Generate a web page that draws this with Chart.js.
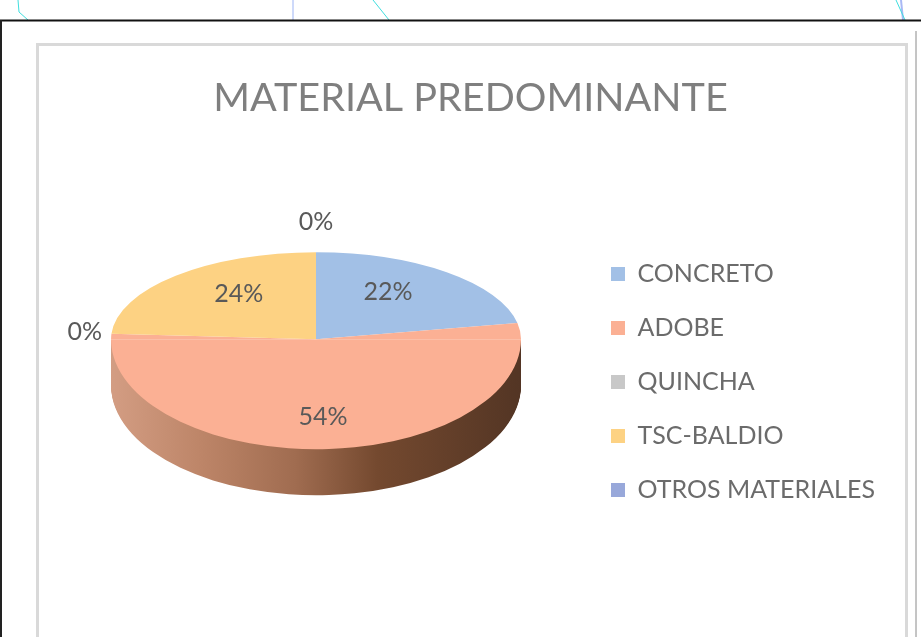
<!DOCTYPE html>
<html>
<head>
<meta charset="utf-8">
<title>Material predominante</title>
<script src="https://cdn.jsdelivr.net/npm/chart.js@4"></script>
<style>
  html, body { margin: 0; padding: 0; background: #fff; overflow: hidden; }
  #page { position: relative; width: 921px; height: 637px; overflow: hidden; }
  #scraps { position: absolute; left: 0; top: 0; }
  #frame { position: absolute; left: 36px; top: 43px; width: 866px; height: 591px; border: 3px solid #d9d9d9; }
  #chartbox { position: absolute; left: 39px; top: 46px; width: 863px; height: 591px; }
</style>
</head>
<body>
<div id="page">
  <svg id="scraps" width="921" height="637" fill="none">
    <polyline points="18,0 19,12 28,20" stroke="#3fdede"/>
    <line x1="293" y1="0" x2="293" y2="20" stroke="#9db4f5"/>
    <line x1="373" y1="0" x2="389" y2="20" stroke="#3fdede"/>
    <line x1="901" y1="0" x2="903" y2="20" stroke="#a9b9f5" stroke-width="2"/>
    <line x1="896" y1="0" x2="905" y2="20" stroke="#3fdede"/>
    <line x1="0" y1="20.5" x2="921" y2="20.5" stroke="#111" stroke-width="2"/>
    <line x1="1" y1="20" x2="1" y2="637" stroke="#222" stroke-width="2"/>
    <line x1="916" y1="31" x2="916" y2="637" stroke="#8a8a8a"/>
  </svg>
  <div id="frame"></div>
  <div id="chartbox"><canvas id="grafico"></canvas></div>
</div>
<script>
var materiales = ['CONCRETO', 'ADOBE', 'QUINCHA', 'TSC-BALDIO', 'OTROS MATERIALES'];
var porcentajes = [22, 54, 0, 24, 0];
var colores = ['#a2c0e6', '#fbb094', '#c8c8c8', '#fdd283', '#98a8da'];

var fuente = 'Lato, "Open Sans", sans-serif';
var RADIO = 205;
var ALTO_ARRIBA = 87;   // back half of the disc, flattened more
var ALTO_ABAJO = 110;   // front half
var GROSOR = 46;

// draws the arcs with one half of the disc squashed around the centre line
function mitad(ctx, arc, arriba, dy, pintar) {
  var k = (arriba ? ALTO_ARRIBA : ALTO_ABAJO) / RADIO;
  var ancho = ctx.canvas.width, alto = ctx.canvas.height;
  ctx.save();
  ctx.beginPath();
  if (arriba) ctx.rect(0, 0, ancho, arc.y);
  else ctx.rect(0, arc.y + dy, ancho, alto);
  ctx.clip();
  ctx.translate(arc.x, arc.y + dy);
  ctx.scale(1, k);
  ctx.translate(-arc.x, -arc.y);
  pintar();
  ctx.restore();
}

var tarta3d = {
  id: 'tarta3d',
  afterLayout: function (c) {
    var lg = c.legend;
    var w = lg.right - lg.left, h = lg.bottom - lg.top;
    lg.left = 543; lg.right = lg.left + w;
    lg.top = 337 - h / 2 - 1; lg.bottom = lg.top + h;
    c.titleBlock.left = 0;
    c.titleBlock.right = c.width;
  },
  beforeDatasetDraw: function (c, args) {
    var ctx = c.ctx;
    var arcos = args.meta.data;
    var adobe = arcos[1];
    var x0 = adobe.x - RADIO;

    var g = ctx.createLinearGradient(x0, 0, x0 + 2 * RADIO, 0);
    g.addColorStop(0, '#d39d83');
    g.addColorStop(0.22, '#bd8568');
    g.addColorStop(0.45, '#a06c50');
    g.addColorStop(0.65, '#74492f');
    g.addColorStop(1, '#533524');

    var propias = adobe.options;
    adobe.options = Object.assign({}, propias, { backgroundColor: g });
    for (var d = GROSOR; d > 0; d--) {
      mitad(ctx, adobe, false, d, function () { adobe.draw(ctx); });
    }
    adobe.options = propias;

    var todos = function () {
      arcos.forEach(function (a) { if (a.circumference > 0) a.draw(ctx); });
    };
    mitad(ctx, adobe, true, 0, todos);
    mitad(ctx, adobe, false, 0, todos);
    return false;
  },
  afterDatasetsDraw: function (c) {
    var ctx = c.ctx;
    var arcos = c.getDatasetMeta(0).data;
    ctx.save();
    ctx.font = '25px ' + fuente;
    ctx.fillStyle = '#595959';
    ctx.textAlign = 'center';
    ctx.textBaseline = 'middle';
    arcos.forEach(function (a, i) {
      var medio = (a.startAngle + a.endAngle) / 2;
      var sx = Math.cos(medio), sy = Math.sin(medio);
      var alto = sy < 0 ? ALTO_ARRIBA : ALTO_ABAJO;
      var fx = porcentajes[i] === 0 ? 1.13 : 0.55;
      var fy = porcentajes[i] === 0 ? 1.35 : 0.71;
      ctx.fillText(porcentajes[i] + '%', a.x + sx * RADIO * fx, a.y + sy * alto * fy);
    });
    ctx.restore();
  }
};

var ctx = document.getElementById('grafico');
var chart = new Chart(ctx, {
  type: 'pie',
  data: {
    labels: materiales,
    datasets: [{
      data: porcentajes,
      backgroundColor: colores,
      borderWidth: 0,
      radius: RADIO,
      clip: false
    }]
  },
  options: {
    responsive: true,
    maintainAspectRatio: false,
    animation: false,
    layout: { padding: { bottom: 100, right: 6 } },
    plugins: {
      title: {
        display: true,
        text: 'MATERIAL PREDOMINANTE',
        color: '#7f7f7f',
        font: { family: fuente, size: 39.6, weight: 'normal' },
        padding: { top: 28, bottom: 20 }
      },
      legend: {
        position: 'right',
        labels: {
          color: '#6b6b6b',
          font: { family: fuente, size: 25 },
          boxWidth: 14,
          boxHeight: 14,
          padding: 29
        }
      },
      tooltip: { enabled: false }
    }
  },
  plugins: [tarta3d]
});
</script>
</body>
</html>
